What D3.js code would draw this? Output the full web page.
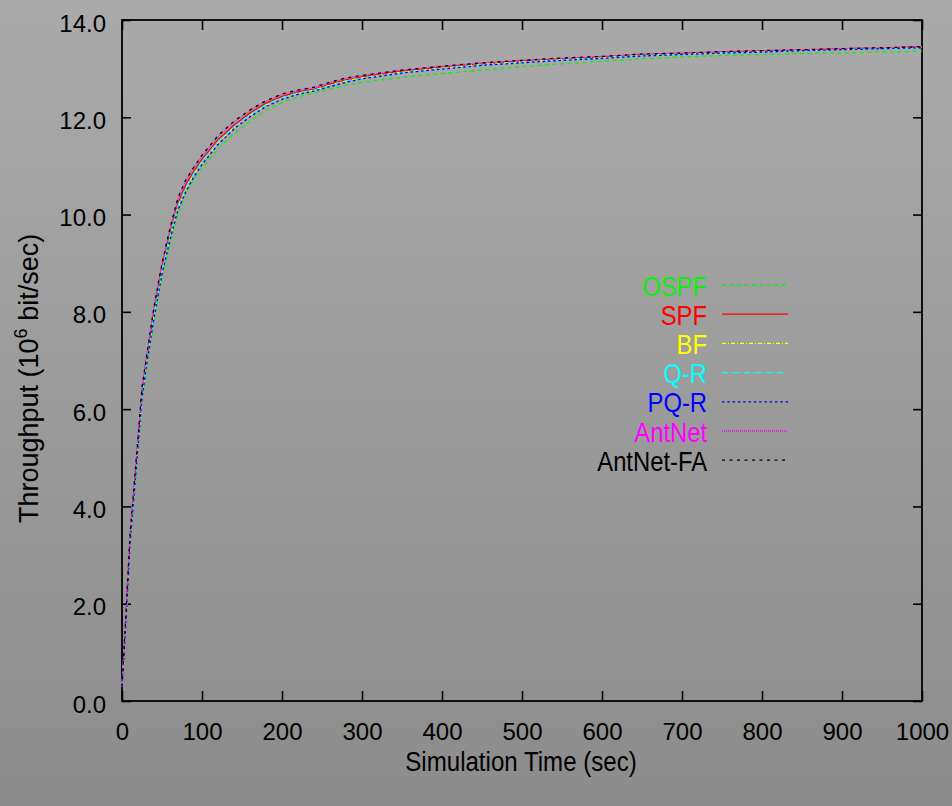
<!DOCTYPE html>
<html>
<head>
<meta charset="utf-8">
<script src="https://cdn.jsdelivr.net/npm/d3@7"></script>
<style>
html,body{margin:0;padding:0;background:#9c9c9c;}
svg{display:block;}
text{font-family:"Liberation Sans",Arial,Helvetica,sans-serif;}
</style>
</head>
<body>
<svg id="chart" width="952" height="806"></svg>
<script>
// ---- data ----
const time = [0,5,10,15,20,25,30,35,40,50,60,70,80,90,100,120,140,160,180,200,220,240,260,280,300,350,400,450,500,550,600,650,700,750,800,850,900,950,1000];

const ospf    = [0.3,1.6,3.15,4.15,5.15,6.15,6.75,7.27,7.8,8.7,9.4,10.02,10.45,10.72,10.95,11.35,11.66,11.92,12.14,12.3,12.42,12.5,12.58,12.66,12.72,12.82,12.9,12.97,13.04,13.1,13.15,13.2,13.24,13.27,13.29,13.31,13.32,13.34,13.36];
const spf     = [0.3,1.75,3.35,4.35,5.35,6.35,6.95,7.48,8.02,8.92,9.63,10.24,10.62,10.9,11.14,11.54,11.84,12.09,12.29,12.43,12.52,12.58,12.68,12.77,12.83,12.95,13.03,13.1,13.16,13.2,13.24,13.29,13.31,13.34,13.36,13.38,13.41,13.42,13.45];
const bf      = [0.3,1.7,3.28,4.28,5.28,6.28,6.87,7.4,7.94,8.83,9.54,10.15,10.53,10.83,11.07,11.48,11.79,12.04,12.25,12.4,12.49,12.56,12.66,12.75,12.81,12.93,13.01,13.09,13.14,13.19,13.23,13.28,13.3,13.33,13.35,13.38,13.4,13.42,13.44];
const qr      = [0.3,1.7,3.3,4.3,5.3,6.3,6.9,7.43,7.97,8.86,9.57,10.18,10.56,10.85,11.09,11.5,11.8,12.05,12.26,12.4,12.5,12.56,12.65,12.74,12.8,12.92,13.0,13.08,13.13,13.18,13.22,13.27,13.29,13.32,13.34,13.37,13.39,13.41,13.43];
const pqr     = [0.3,1.65,3.22,4.22,5.22,6.22,6.82,7.35,7.88,8.78,9.48,10.1,10.48,10.78,11.03,11.44,11.76,12.01,12.22,12.37,12.47,12.54,12.63,12.72,12.79,12.91,12.99,13.07,13.12,13.17,13.21,13.26,13.29,13.32,13.34,13.37,13.39,13.41,13.43];
const antnet  = [0.3,1.8,3.4,4.4,5.4,6.4,7.0,7.55,8.08,8.98,9.7,10.32,10.7,10.97,11.2,11.6,11.9,12.14,12.33,12.47,12.55,12.61,12.71,12.8,12.86,12.97,13.05,13.12,13.17,13.21,13.25,13.3,13.32,13.35,13.37,13.39,13.41,13.43,13.45];
const antnetFA= [0.3,1.8,3.4,4.4,5.4,6.45,7.0,7.55,8.1,9.0,9.72,10.35,10.72,10.98,11.22,11.62,11.92,12.15,12.34,12.48,12.56,12.62,12.72,12.81,12.86,12.97,13.05,13.12,13.17,13.22,13.25,13.3,13.32,13.35,13.37,13.39,13.41,13.43,13.45];

const seriesNames = ["OSPF","SPF","BF","Q-R","PQ-R","AntNet","AntNet-FA"];
const seriesValues = [ospf, spf, bf, qr, pqr, antnet, antnetFA];
const xTicks = [0,100,200,300,400,500,600,700,800,900,1000];
const yTicks = [0,2,4,6,8,10,12,14];
const xLabel = "Simulation Time (sec)";

// ---- styles ----
const colors = ["#10ee10","#ff0000","#ffff00","#00ffff","#0000ff","#ff00ff","#000000"];
const dashes = ["4,3.5", null, "4,2,1,2", "6,2,1,2", "2.5,2.8", "1,1", "3,4.5"];

const svg = d3.select("#chart");
const W = 952, H = 806;

// background gradient
const defs = svg.append("defs");
const grad = defs.append("linearGradient").attr("id","bg").attr("x1",0).attr("y1",0).attr("x2",0).attr("y2",1);
grad.append("stop").attr("offset","0%").attr("stop-color","#aaaaaa");
grad.append("stop").attr("offset","100%").attr("stop-color","#8c8c8c");
svg.append("rect").attr("width",W).attr("height",H).attr("fill","url(#bg)");

const x = d3.scaleLinear().domain([0,1000]).range([122,922]);
const y = d3.scaleLinear().domain([0,14]).range([701,20]);

// axes
const axisColor = "#000";
const gB = svg.append("g").attr("transform","translate(0,701)")
  .call(d3.axisBottom(x).tickValues(xTicks).tickSizeInner(-10).tickSizeOuter(0).tickFormat(d3.format("d")));
gB.selectAll("text").attr("y",0).attr("dy","1.62em");
const gT = svg.append("g").attr("transform","translate(0,20)")
  .call(d3.axisTop(x).tickValues(xTicks).tickSizeInner(-10).tickSizeOuter(0).tickFormat(""));
const gL = svg.append("g").attr("transform","translate(122,0)")
  .call(d3.axisLeft(y).tickValues(yTicks).tickSizeInner(-9).tickSizeOuter(0).tickFormat(d3.format(".1f")));
gL.selectAll("text").attr("x",-16).attr("dy","0.46em");
const gR = svg.append("g").attr("transform","translate(922,0)")
  .call(d3.axisRight(y).tickValues(yTicks).tickSizeInner(-9).tickSizeOuter(0).tickFormat(""));

[gB,gT,gL,gR].forEach(g=>{
  g.selectAll("path.domain").remove();
  g.selectAll("line").attr("stroke",axisColor).attr("stroke-width",1.6);
  g.selectAll("text").attr("fill","#000").style("font-size","24px")
    .style("font-family","'Liberation Sans',Arial,sans-serif");
});
// frame
svg.append("rect").attr("x",x(0)).attr("y",y(14)).attr("width",x(1000)-x(0)).attr("height",y(0)-y(14))
  .attr("fill","none").attr("stroke","#000").attr("stroke-width",1.8);

// lines
const line = d3.line().x((d,i)=>x(time[i])).y(d=>y(d));
seriesValues.forEach((vals,k)=>{
  svg.append("path").datum(vals).attr("d",line)
    .attr("fill","none").attr("stroke",colors[k]).attr("stroke-width",1.3)
    .attr("stroke-dasharray",dashes[k]);
});

// legend
const legY0 = 285, legStep = 29.2;
seriesNames.forEach((name,k)=>{
  const yy = legY0 + k*legStep;
  svg.append("text").attr("transform",`translate(707,${yy+10.5}) scale(0.85,1)`)
    .attr("text-anchor","end").attr("fill",colors[k]).style("font-size","28px").text(name);
  svg.append("line").attr("x1",722).attr("x2",788).attr("y1",yy).attr("y2",yy)
    .attr("stroke",colors[k]).attr("stroke-width",1.3).attr("stroke-dasharray",dashes[k]);
});

// axis titles
svg.append("text").attr("transform","translate(521,771) scale(0.86,1)")
  .attr("text-anchor","middle").attr("fill","#000").style("font-size","28px").text(xLabel);

const yl = svg.append("text").attr("transform","translate(38,523) rotate(-90)")
  .attr("text-anchor","start").attr("fill","#000").style("font-size","27px");
yl.append("tspan").text("Throughput (10");
yl.append("tspan").attr("dy",-11).style("font-size","18px").text("6");
yl.append("tspan").attr("dy",11).text(" bit/sec)");
</script>
</body>
</html>
